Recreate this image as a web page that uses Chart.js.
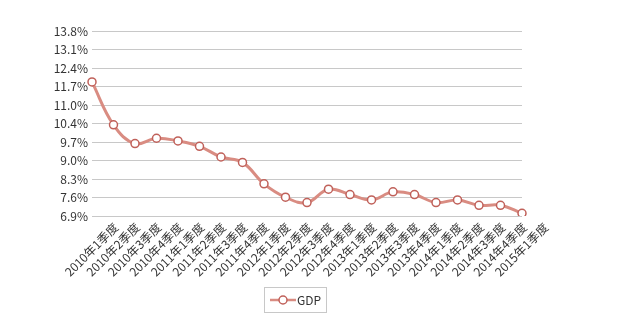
<!DOCTYPE html>
<html>
<head>
<meta charset="utf-8">
<script src="https://cdn.jsdelivr.net/npm/chart.js@4.4.1/dist/chart.umd.min.js"></script>
<style>
  html, body { margin: 0; padding: 0; background: #fff; }
  #wrap { width: 624px; height: 325px; }
</style>
</head>
<body>
<div id="wrap"><canvas id="gdp"></canvas></div>
<script>
const quarters = [
    "2010年1季度", "2010年2季度", "2010年3季度", "2010年4季度",
    "2011年1季度", "2011年2季度", "2011年3季度", "2011年4季度",
    "2012年1季度", "2012年2季度", "2012年3季度", "2012年4季度",
    "2013年1季度", "2013年2季度", "2013年3季度", "2013年4季度",
    "2014年1季度", "2014年2季度", "2014年3季度", "2014年4季度",
    "2015年1季度"
];
const gdpGrowth = [11.9, 10.3, 9.6, 9.8, 9.7, 9.5, 9.1, 8.9, 8.1, 7.6, 7.4, 7.9, 7.7, 7.5, 7.8, 7.7, 7.4, 7.5, 7.3, 7.3, 7.0];
const yTickValues = [6.9, 7.59, 8.28, 8.97, 9.66, 10.35, 11.04, 11.73, 12.42, 13.11, 13.8];
const yTickLabels = ["6.9%", "7.6%", "8.3%", "9.0%", "9.7%", "10.4%", "11.0%", "11.7%", "12.4%", "13.1%", "13.8%"];

const lineColor = "#d98c82";
const pointColor = "#c0615a";
const fontFamily = "'Noto Sans CJK SC', 'DejaVu Sans', sans-serif";

// legend icon: short line with a hollow circle, drawn once
function legendIcon() {
    const c = document.createElement("canvas");
    c.width = 26; c.height = 12;
    const g = c.getContext("2d");
    g.strokeStyle = lineColor;
    g.lineWidth = 2.5;
    g.beginPath(); g.moveTo(0, 6); g.lineTo(26, 6); g.stroke();
    g.beginPath(); g.arc(13, 6, 4, 0, Math.PI * 2);
    g.fillStyle = "#fff"; g.fill();
    g.lineWidth = 1.5; g.strokeStyle = pointColor; g.stroke();
    return c;
}

const legendFrame = {
    id: "legendFrame",
    afterLayout(chart) {
        const lg = chart.legend;
        lg.left += 37; lg.right += 37;
    },
    afterDraw(chart) {
        const hb = chart.legend.legendHitBoxes[0];
        if (!hb) return;
        const ctx = chart.ctx;
        ctx.save();
        ctx.strokeStyle = "#c8c8c8";
        ctx.lineWidth = 1;
        const cy = Math.round(hb.top + hb.height / 2);
        const x0 = Math.round(hb.left) - 10.5;
        ctx.strokeRect(x0, cy - 12.5, Math.round(hb.width) + 16, 25);
        ctx.restore();
    }
};

Chart.defaults.font.family = fontFamily;
Chart.defaults.font.size = 12;
Chart.defaults.color = "#333";

new Chart(document.getElementById("gdp"), {
    type: "line",
    data: {
        labels: quarters,
        datasets: [{
            label: "GDP",
            data: gdpGrowth,
            borderColor: lineColor,
            borderWidth: 3,
            tension: 0.4,
            pointRadius: 4,
            pointBorderWidth: 1.5,
            pointBorderColor: pointColor,
            pointBackgroundColor: "#fff",
            fill: false
        }]
    },
    options: {
        responsive: true,
        maintainAspectRatio: false,
        animation: false,
        layout: { padding: { top: 31, right: 102, left: 0, bottom: 9 } },
        plugins: {
            legend: {
                position: "bottom",
                labels: {
                    usePointStyle: true,
                    pointStyle: legendIcon(),
                    pointStyleWidth: 16,
                    padding: 10,
                    color: "#333",
                    font: { size: 12, family: fontFamily }
                }
            },
            tooltip: { enabled: false }
        },
        scales: {
            x: {
                offset: false,
                grid: { display: false, drawTicks: false },
                border: { display: false },
                ticks: {
                    autoSkip: false,
                    minRotation: 45,
                    maxRotation: 45,
                    padding: 4,
                    labelOffset: 24,
                    color: "#333"
                },
                afterFit(scale) { scale.height = 68; }
            },
            y: {
                min: 6.9,
                max: 13.8,
                border: { display: false },
                grid: { color: "#c8c8c8", drawTicks: false },
                afterBuildTicks(scale) {
                    scale.ticks = yTickValues.map(v => ({ value: v }));
                },
                ticks: {
                    padding: 4,
                    color: "#333",
                    callback: (v, i) => yTickLabels[i]
                },
                afterFit(scale) { scale.width = 92; }
            }
        }
    },
    plugins: [legendFrame]
});
</script>
</body>
</html>
